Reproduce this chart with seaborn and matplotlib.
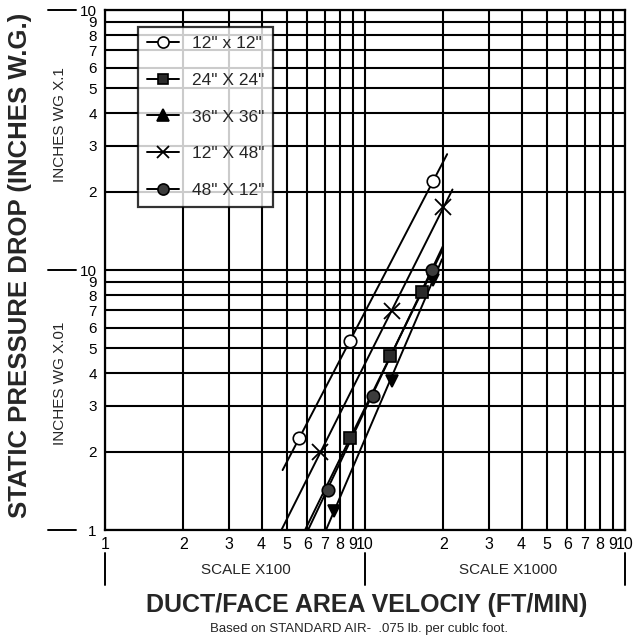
import matplotlib
matplotlib.use("Agg")
import matplotlib.pyplot as plt
import pandas as pd
import seaborn as sns
from matplotlib.lines import Line2D

# series names as shown in the legend
SERIES = ['12" x 12"', '24" X 24"', '36" X 36"', '12" X 48"', '48" X 12"']

# measured points (velocity x100 ft/min, pressure drop x.01 in wg)
PTS_X = {
    '12" x 12"': [5.59, 8.76, 18.3],
    '24" X 24"': [8.76, 12.48, 16.5],
    '36" X 36"': [7.6, 12.67, 18.3],
    '12" X 48"': [6.71, 12.67, 19.9],
    '48" X 12"': [7.19, 10.76, 18.06],
}
PTS_Y = {
    '12" x 12"': [2.25, 5.33, 22.0],
    '24" X 24"': [2.26, 4.67, 8.25],
    '36" X 36"': [1.18, 3.75, 9.15],
    '12" X 48"': [2.0, 6.97, 17.4],
    '48" X 12"': [1.43, 3.28, 10.0],
}
# drawn line segments (start, end) for each series
LINE_X = {
    '12" x 12"': [4.82, 20.7],
    '24" X 24"': [5.88, 19.95],
    '36" X 36"': [7.08, 19.78],
    '12" X 48"': [4.77, 21.7],
    '48" X 12"': [6.04, 19.95],
}
LINE_Y = {
    '12" x 12"': [1.70, 27.9],
    '24" X 24"': [1.0, 12.05],
    '36" X 36"': [1.0, 11.0],
    '12" X 48"': [1.0, 20.4],
    '48" X 12"': [1.0, 12.37],
}

TICKS = [1, 2, 3, 4, 5, 6, 7, 8, 9, 10, 20, 30, 40, 50, 60, 70, 80, 90, 100]
TICK_LABELS = ["1", "2", "3", "4", "5", "6", "7", "8", "9", "10",
               "2", "3", "4", "5", "6", "7", "8", "9", "10"]

STYLE = {
    '12" x 12"': dict(marker="o", face="white", size=9),
    '24" X 24"': dict(marker="s", face="#2b2b2b", size=8),
    '36" X 36"': dict(marker="v", face="black", size=9),
    '12" X 48"': dict(marker="x", face="black", size=10),
    '48" X 12"': dict(marker="o", face="#3c3c3c", size=9),
}
LEGEND_MARKER = {'36" X 36"': "^"}

sns.set_style("white")
plt.rcParams["font.family"] = ["Liberation Sans", "DejaVu Sans"]

W, H = 641, 639
fig = plt.figure(figsize=(W / 100, H / 100), dpi=100)
ax = fig.add_axes([105 / W, 1 - 530 / H, 520 / W, 520 / H])

ax.set_xscale("log")
ax.set_yscale("log")
ax.set_xlim(1, 100)
ax.set_ylim(1, 100)

# grid lines at every labelled value
for v in TICKS:
    ax.axvline(v, color="black", lw=1.5, zorder=1)
    ax.axhline(v, color="black", lw=1.5, zorder=1)

lines_df = pd.concat(
    [pd.DataFrame({"x": LINE_X[s], "y": LINE_Y[s], "series": s}) for s in SERIES]
)
pts_df = pd.concat(
    [pd.DataFrame({"x": PTS_X[s], "y": PTS_Y[s], "series": s}) for s in SERIES]
)

for s in SERIES:
    st = STYLE[s]
    sns.lineplot(data=lines_df[lines_df["series"] == s], x="x", y="y",
                 color="black", lw=1.4, ax=ax, legend=False, zorder=3,
                 estimator=None, sort=False)
    d = pts_df[pts_df["series"] == s]
    if st["marker"] == "x":
        ax.plot(d["x"], d["y"], ls="none", marker="x", ms=st["size"] * 1.2,
                mew=1.3, color="black", zorder=4)
    else:
        ax.plot(d["x"], d["y"], ls="none", marker=st["marker"], ms=st["size"],
                mfc=st["face"], mec="black", mew=1.2, zorder=4)

ax.set_xticks(TICKS)
ax.set_xticklabels(TICK_LABELS)
ax.set_yticks(TICKS)
ax.set_yticklabels(TICK_LABELS)
ax.minorticks_off()
ax.tick_params(axis="both", length=0, colors="black")
ax.tick_params(axis="x", pad=5, labelsize=11.5)
ax.tick_params(axis="y", pad=6, labelsize=11)
ax.set_xlabel("")
ax.set_ylabel("")
for sp in ax.spines.values():
    sp.set_color("black")
    sp.set_linewidth(1.6)

handles = []
for s in SERIES:
    st = STYLE[s]
    mk = LEGEND_MARKER.get(s, st["marker"])
    if mk == "x":
        handles.append(Line2D([], [], color="black", lw=1.4, marker="x",
                              ms=9, mew=1.3))
    else:
        handles.append(Line2D([], [], color="black", lw=1.4, marker=mk,
                              ms=st["size"] - 1, mfc=st["face"], mec="black",
                              mew=1.2))
leg = ax.legend(handles, SERIES, loc="upper left",
                bbox_to_anchor=((138 - 105) / 520, 1 - (27 - 10) / 520),
                borderaxespad=0, fontsize=12.5, frameon=True, fancybox=False,
                handlelength=1.85, handletextpad=0.75, labelspacing=1.25,
                borderpad=0.5)
leg.get_frame().set_edgecolor("black")
leg.get_frame().set_linewidth(1.6)
leg.set_zorder(10)


def fx(px):
    return px / W


def fy(py):
    return 1 - py / H


# side dashes and scale bars
for py in (10, 269.5, 530):
    fig.add_artist(Line2D([fx(48), fx(76)], [fy(py), fy(py)], color="black", lw=1.4))
for px in (105, 365, 625):
    fig.add_artist(Line2D([fx(px), fx(px)], [fy(553), fy(585)], color="black", lw=1.4))

fig.text(fx(246), fy(570), "SCALE X100", ha="center", va="center", fontsize=11)
fig.text(fx(508), fy(570), "SCALE X1000", ha="center", va="center", fontsize=11)
fig.text(fx(60.5), fy(125), "INCHES WG X.1", ha="center", va="center",
         rotation=90, fontsize=11)
fig.text(fx(60.5), fy(383), "INCHES WG X.01", ha="center", va="center",
         rotation=90, fontsize=11)
fig.text(fx(20), fy(265), "STATIC PRESSURE DROP (INCHES W.G.)", ha="center",
         va="center", rotation=90, fontsize=18.5, fontweight="bold")
fig.text(fx(367), fy(605), "DUCT/FACE AREA VELOCIY (FT/MIN)", ha="center",
         va="center", fontsize=18, fontweight="bold")
fig.text(fx(359), fy(629), "Based on STANDARD AIR-  .075 lb. per cublc foot.",
         ha="center", va="center", fontsize=9.5)

fig.savefig("out.png", dpi=100, facecolor="white")
